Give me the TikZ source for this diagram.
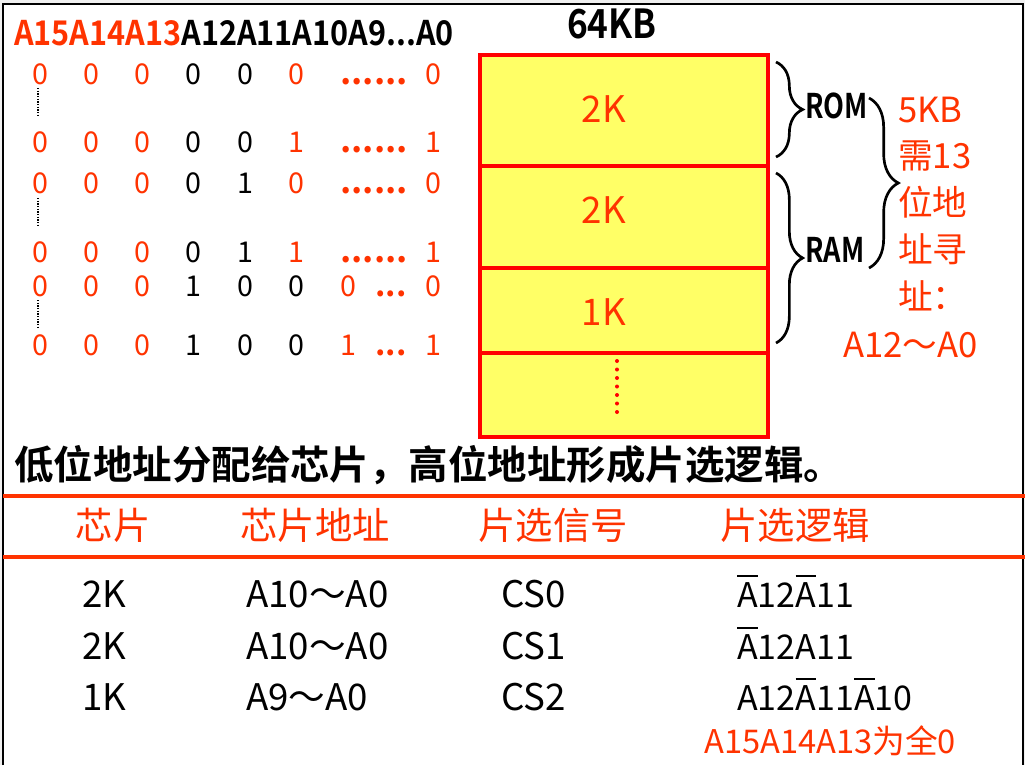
\documentclass[tikz,border=0pt]{standalone}
\usepackage{fontspec}
\setmainfont{Noto Sans CJK SC}[BoldFont={Noto Sans CJK SC Bold}]
\usepackage{tikz}
\usetikzlibrary{decorations.pathreplacing}
\definecolor{rosso}{RGB}{255,51,0}
\definecolor{giallo}{RGB}{255,255,102}
\newcommand\fsz[1]{\fontsize{#1pt}{#1pt}\selectfont}
\newcommand\puntisei{{\fsz{26}\bfseries ......}}
\newcommand\puntitre{{\fsz{24}\bfseries ...}}
\newcommand\negA{\leavevmode\setbox0\hbox{A}%
  \rlap{\rule[\dimexpr\ht0+0.14em\relax]{\wd0}{0.075em}}A}
\tikzset{
  bit/.style={inner sep=0pt, anchor=base, font=\fsz{21.5}},
  blocco/.style={draw=red, fill=giallo, line width=3pt},
  etic/.style={inner sep=0pt, anchor=base, text=rosso, font=\fsz{27.5}},
  graffa/.style={line width=2pt, decorate, decoration={brace, amplitude=20pt}},
  tab/.style={inner sep=0pt, anchor=base west, font=\fsz{27.5}},
  laterale/.style={inner sep=0pt, anchor=base west, text=rosso, font=\fsz{26}},
}

\begin{document}
\begin{tikzpicture}[x=0.75pt,y=0.75pt]
\useasboundingbox (0,0) rectangle (1025,-765);

% --- Cornice
\fill[gray!12] (0,0) rectangle (1025,-765);
\fill[white] (3,-4) rectangle (1023,-765);
\draw[line width=1pt] (3,-765) -- (3,-4) -- (1023,-4) -- (1023,-765);

% --- Intestazione indirizzi
\node[inner sep=0pt, anchor=base west, font=\fsz{25.5}\bfseries] (intest) at (14,-45)
  {\scalebox{0.9}[1]{\textcolor{rosso}{A15A14A13}A12A11A10A9...A0}};

% --- Righe di bit
\foreach \x/\c/\v [count=\i] in {40/rosso/0,91/rosso/0,142/rosso/0,193/black/0,245/black/0,296/rosso/0,374/rosso/\puntisei,433/rosso/0}
  \node[bit,text=\c] (ra\i) at (\x,-84) {\v};
\foreach \x/\c/\v [count=\i] in {40/rosso/0,91/rosso/0,142/rosso/0,193/black/0,245/black/0,296/rosso/1,374/rosso/\puntisei,433/rosso/1}
  \node[bit,text=\c] (rb\i) at (\x,-152) {\v};
\foreach \x/\c/\v [count=\i] in {40/rosso/0,91/rosso/0,142/rosso/0,193/black/0,245/black/1,296/rosso/0,374/rosso/\puntisei,433/rosso/0}
  \node[bit,text=\c] (rc\i) at (\x,-193) {\v};
\foreach \x/\c/\v [count=\i] in {40/rosso/0,91/rosso/0,142/rosso/0,193/black/0,245/black/1,296/rosso/1,374/rosso/\puntisei,433/rosso/1}
  \node[bit,text=\c] (rd\i) at (\x,-262) {\v};
\foreach \x/\c/\v [count=\i] in {40/rosso/0,91/rosso/0,142/rosso/0,193/black/1,245/black/0,296/black/0,348/rosso/0,391/rosso/\puntitre,433/rosso/0}
  \node[bit,text=\c] (re\i) at (\x,-296) {\v};
\foreach \x/\c/\v [count=\i] in {40/rosso/0,91/rosso/0,142/rosso/0,193/black/1,245/black/0,296/black/0,348/rosso/1,391/rosso/\puntitre,433/rosso/1}
  \node[bit,text=\c] (rf\i) at (\x,-355) {\v};

% --- Puntini verticali
\foreach \ya/\yb in {88/115,198/225,300/327}
  \draw[line width=1pt, dash pattern=on 1pt off 1pt] (38,-\ya) -- (38,-\yb);

% --- Mappa di memoria
\node[inner sep=0pt, anchor=base, font=\fsz{30}\bfseries] (tot) at (612,-38) {\scalebox{0.88}[1]{64KB}};
\filldraw[blocco] (480,-55) rectangle (768,-166);
\filldraw[blocco] (480,-166) rectangle (768,-268);
\filldraw[blocco] (480,-268) rectangle (768,-353);
\filldraw[blocco] (480,-353) rectangle (768,-437);
\node[etic] (rom) at (604,-122) {2K};
\node[etic] (rama) at (604,-223) {2K};
\node[etic] (ramb) at (604,-325) {1K};
\foreach \k in {0,...,6}
  \fill[red] (617,-361-8.5*\k) circle (2);

% --- Graffe
\draw[graffa] (776,-62) -- (776,-157);
\draw[graffa] (776,-173) -- (776,-343);
\draw[graffa, decoration={amplitude=22pt}] (869,-98) -- (869,-268);
\node[inner sep=0pt, anchor=base west, font=\fsz{25.5}\bfseries] (lrom) at (805,-118) {\scalebox{0.8}[1]{ROM}};
\node[inner sep=0pt, anchor=base west, font=\fsz{25.5}\bfseries] (lram) at (805,-262) {\scalebox{0.8}[1]{RAM}};

% --- Nota a destra
\node[laterale] (n1) at (898,-122) {5KB};
\node[laterale] (n2) at (898,-168) {需13};
\node[laterale] (n3) at (898,-215) {位地};
\node[laterale] (n4) at (898,-262) {址寻};
\node[laterale] (n5) at (898,-309) {址：};
\node[laterale, anchor=base east] (n6) at (978,-357) {A12～A0};

% --- Frase
\node[inner sep=0pt, anchor=base west, font=\fsz{29.6}\bfseries] (frase) at (14,-479)
  {低位地址分配给芯片，高位地址形成片选逻辑。};

% --- Tabella
\draw[rosso, line width=3pt] (3,-496) -- (1025,-496);
\draw[rosso, line width=3pt] (3,-557) -- (1025,-557);
\node[etic, font=\fsz{28}] (h1) at (113,-539) {芯片};
\node[etic, font=\fsz{28}] (h2) at (315,-539) {芯片地址};
\node[etic, font=\fsz{28}] (h3) at (553,-539) {片选信号};
\node[etic, font=\fsz{28}] (h4) at (795,-539) {片选逻辑};

\node[tab] (a1) at (82,-607) {2K};
\node[tab] (a2) at (246,-607) {A10～A0};
\node[tab] (a3) at (501,-607) {CS0};
\node[tab, font=\fsz{25.5}] (a4) at (737,-607) {\negA12\negA11};
\node[tab] (b1) at (82,-659) {2K};
\node[tab] (b2) at (246,-659) {A10～A0};
\node[tab] (b3) at (501,-659) {CS1};
\node[tab, font=\fsz{25.5}] (b4) at (737,-659) {\negA12A11};
\node[tab] (c1) at (82,-710) {1K};
\node[tab] (c2) at (246,-710) {A9～A0};
\node[tab] (c3) at (501,-710) {CS2};
\node[tab, font=\fsz{25.5}] (c4) at (737,-710) {A12\negA11\negA10};
\node[laterale, font=\fsz{24.5}] (nota) at (704,-753) {A15A14A13为全0};

\end{tikzpicture}
\end{document}
